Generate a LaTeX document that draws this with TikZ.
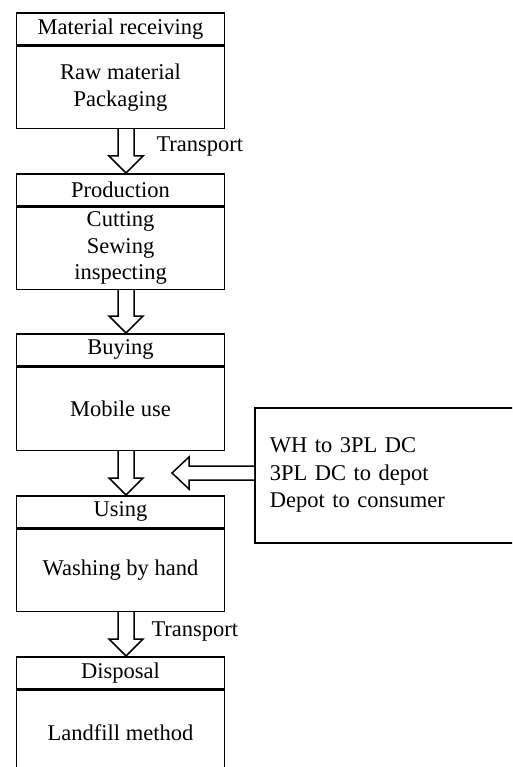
\documentclass[tikz,border=0pt]{standalone}
\usepackage{fontspec}
\setmainfont{Liberation Serif}
\usetikzlibrary{calc}

\tikzset{
  txt/.style={font=\fontsize{22.5}{26.5}\selectfont},
  head/.style={txt, draw, line width=1.6pt, anchor=north, minimum width=208pt,
    minimum height=32pt, inner sep=0pt},
  body/.style={txt, draw, line width=1.6pt, anchor=north, minimum width=208pt,
    inner sep=0pt, align=center},
  blk/.style={draw, line width=1.5pt, fill=white, line join=miter},
}

% downward block arrow: #1 start of shaft, #2 tip
\newcommand{\downblock}[2]{%
  \draw[blk] let \p1=(#1), \p2=(#2) in
    (\x1-8pt,\y1) -- (\x1-8pt,\y2+17pt) -- (\x1-17pt,\y2+17pt) -- (\x2,\y2)
    -- (\x1+17pt,\y2+17pt) -- (\x1+8pt,\y2+17pt) -- (\x1+8pt,\y1);}

\begin{document}
\begin{tikzpicture}[x=1pt,y=-1pt]
\clip (0,0) rectangle (512,767);
\fill[white] (0,0) rectangle (512,767);

% stages
\node[head] (h1) at (120.5,12) {Material receiving};
\node[body, minimum height=82pt] (b1) at (h1.south) {Raw material\\Packaging};

\node[head] (h2) at (120.5,173) {Production};
\node[body, minimum height=82pt] (b2) at (h2.south) {Cutting\\Sewing\\inspecting};

\node[head] (h3) at (120.5,333) {Buying};
\node[body, minimum height=83pt] (b3) at (h3.south) {Mobile use};

\node[head] (h4) at (120.5,495) {Using};
\node[body, minimum height=82pt] (b4) at (h4.south) {Washing by hand};

\node[head] (h5) at (120.5,656) {Disposal};
\node[body, minimum height=84pt] (b5) at (h5.south) {Landfill method};

% distribution box
\node[txt, draw, line width=1.6pt, anchor=north west, text width=240pt,
      inner xsep=15pt, minimum height=135pt, align=left, font=\fontsize{22.5}{27.5}\selectfont]
  (dc) at (254,407) {WH to 3PL DC\\3PL DC to depot\\Depot to consumer};

% flow arrows between stages
\coordinate (s1) at ($(b1.south)+(5.5,0)$);
\coordinate (t1) at ($(h2.north)+(5.5,0)$);
\coordinate (s2) at ($(b2.south)+(5.5,0)$);
\coordinate (t2) at ($(h3.north)+(5.5,0)$);
\coordinate (s3) at ($(b3.south)+(5.5,0)$);
\coordinate (t3) at ($(h4.north)+(5.5,0)$);
\coordinate (s4) at ($(b4.south)+(5.5,0)$);
\coordinate (t4) at ($(h5.north)+(5.5,0)$);
\downblock{s1}{t1}
\downblock{s2}{t2}
\downblock{s3}{t3}
\downblock{s4}{t4}

% arrow from the distribution box
\coordinate (tl) at (172,473);
\draw[blk] let \p1=(dc.west), \p2=(tl) in
  (\x1,\y2+7pt) -- (\x2+17pt,\y2+7pt) -- (\x2+17pt,\y2+16pt) -- (\x2,\y2)
  -- (\x2+17pt,\y2-16pt) -- (\x2+17pt,\y2-7pt) -- (\x1,\y2-7pt);

% labels
\node[txt, anchor=west] (tr1) at (153,147) {Transport};
\node[txt, anchor=west] (tr2) at (148,632) {Transport};
\end{tikzpicture}
\end{document}
